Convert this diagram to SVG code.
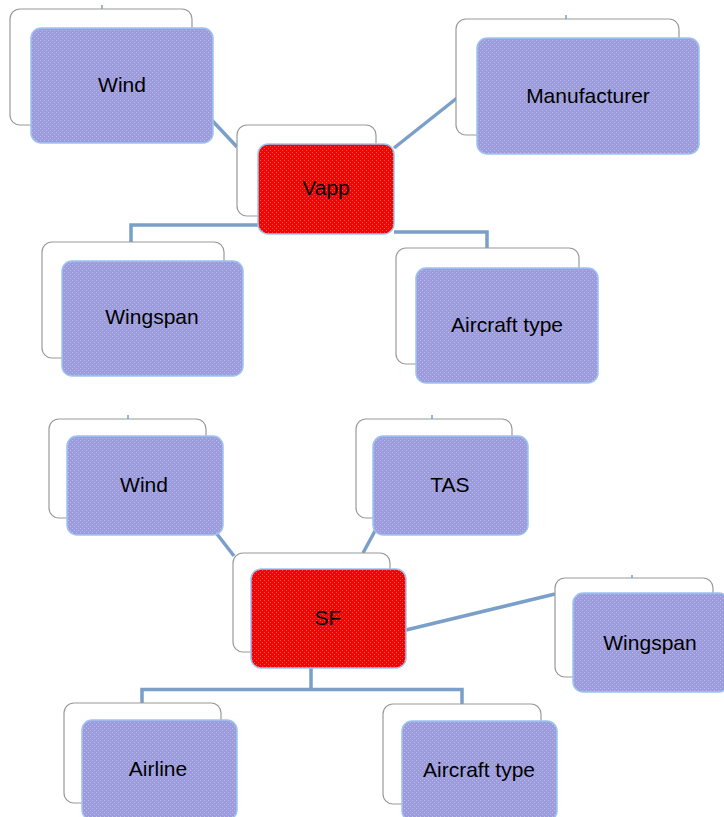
<svg xmlns="http://www.w3.org/2000/svg" width="724" height="817" viewBox="0 0 724 817">
<defs>
<pattern id="pb" width="4" height="4" patternUnits="userSpaceOnUse">
<rect width="4" height="4" fill="#9c9cdc"/>
<rect x="0" y="0" width="1" height="1" fill="#bcbcec"/>
<rect x="2" y="2" width="1" height="1" fill="#bcbcec"/>
</pattern>
<pattern id="pr" width="4" height="4" patternUnits="userSpaceOnUse">
<rect width="4" height="4" fill="#fa0000"/>
<rect x="0" y="0" width="1" height="1" fill="#ff5050"/>
<rect x="2" y="2" width="1" height="1" fill="#ff5050"/>
</pattern>
</defs>
<style>
.back{fill:#ffffff;stroke:#9a9a9a;stroke-width:1.2}
.front{fill:url(#pb);stroke:#9cc4ef;stroke-width:1.5}
.red{fill:url(#pr);stroke:#9cc4ef;stroke-width:1.5}
.lbl{font-family:"Liberation Sans",Arial,sans-serif;font-size:21px;fill:#000;text-anchor:middle}
.con{fill:none;stroke:#7a9fc8;stroke-width:3.5}
.tick{stroke:#7a9fc8;stroke-width:1.5}
</style>
<g id="connectors">
<line class="con" x1="192" y1="99" x2="237" y2="147"/>
<line class="con" x1="394" y1="148" x2="457" y2="98"/>
<polyline class="con" points="131,242 131,225 258,225"/>
<polyline class="con" points="394,232 487,232 487,248"/>
<line class="con" x1="203" y1="516" x2="234" y2="556"/>
<line class="con" x1="382" y1="518" x2="363" y2="553"/>
<line class="con" x1="406" y1="630" x2="555" y2="594"/>
<polyline class="con" points="311,668 311,689"/>
<polyline class="con" points="142,703 142,689.5 462,689.5 462,704"/>
<line class="tick" x1="102" y1="5" x2="102" y2="9"/>
<line class="tick" x1="566" y1="15" x2="566" y2="19"/>
<line class="tick" x1="128" y1="415" x2="128" y2="419"/>
<line class="tick" x1="432" y1="415" x2="432" y2="419"/>
<line class="tick" x1="632" y1="575" x2="632" y2="578"/>
</g>
<g id="wind1">
<rect class="back" x="10" y="9" width="182" height="116" rx="10"/>
<rect class="front" x="31" y="28" width="182" height="115" rx="10"/>
<text class="lbl" x="122" y="92">Wind</text>
</g>
<g id="vapp">
<rect class="back" x="237" y="125" width="139" height="91" rx="10"/>
<rect class="red" x="258" y="144" width="136" height="90" rx="10"/>
<text class="lbl" x="326" y="195">Vapp</text>
</g>
<g id="manufacturer">
<rect class="back" x="456" y="19" width="223" height="116" rx="10"/>
<rect class="front" x="477" y="38" width="222" height="116" rx="10"/>
<text class="lbl" x="588" y="103">Manufacturer</text>
</g>
<g id="wingspan1">
<rect class="back" x="42" y="242" width="182" height="116" rx="10"/>
<rect class="front" x="62" y="261" width="181" height="115" rx="10"/>
<text class="lbl" x="152" y="324">Wingspan</text>
</g>
<g id="aircrafttype1">
<rect class="back" x="396" y="248" width="183" height="116" rx="10"/>
<rect class="front" x="416" y="268" width="182" height="115" rx="10"/>
<text class="lbl" x="507" y="332">Aircraft type</text>
</g>
<g id="wind2">
<rect class="back" x="49" y="419" width="157" height="99" rx="10"/>
<rect class="front" x="67" y="436" width="156" height="99" rx="10"/>
<text class="lbl" x="144" y="492">Wind</text>
</g>
<g id="tas">
<rect class="back" x="356" y="419" width="156" height="99" rx="10"/>
<rect class="front" x="373" y="436" width="155" height="99" rx="10"/>
<text class="lbl" x="450" y="492">TAS</text>
</g>
<g id="sf">
<rect class="back" x="233" y="553" width="157" height="99" rx="10"/>
<rect class="red" x="251" y="569" width="155" height="99" rx="10"/>
<text class="lbl" x="328" y="625">SF</text>
</g>
<g id="wingspan2">
<rect class="back" x="555" y="578" width="158" height="99" rx="10"/>
<rect class="front" x="573" y="593" width="156" height="99" rx="10"/>
<text class="lbl" x="650" y="650">Wingspan</text>
</g>
<g id="airline">
<rect class="back" x="64" y="703" width="157" height="100" rx="10"/>
<rect class="front" x="82" y="720" width="155" height="100" rx="10"/>
<text class="lbl" x="158" y="776">Airline</text>
</g>
<g id="aircrafttype2">
<rect class="back" x="383" y="704" width="158" height="100" rx="10"/>
<rect class="front" x="402" y="721" width="155" height="100" rx="10"/>
<text class="lbl" x="479" y="777">Aircraft type</text>
</g>
</svg>
